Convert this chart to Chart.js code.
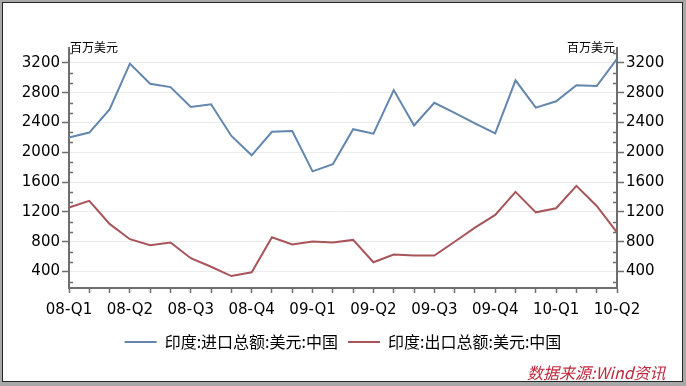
<!DOCTYPE html>
<html>
<head>
<meta charset="utf-8">
<script src="https://cdn.jsdelivr.net/npm/chart.js@4.4.1/dist/chart.umd.min.js"></script>
<style>
  html, body { margin: 0; padding: 0; }
  body { width: 686px; height: 386px; background: #a8a8a8; position: relative; overflow: hidden; }
  #frame { position: absolute; left: 2px; top: 2px; width: 681px; height: 380px; box-sizing: border-box; border: 1px solid #262626; background: #fff; }
  #c { position: absolute; left: 0; top: 0; }
  #src { position: absolute; left: 527px; top: 362px; font: italic 16px "Noto Sans CJK SC", sans-serif; line-height: 20px; color: #c0283c; white-space: nowrap; }
</style>
</head>
<body>
<div id="frame"></div>
<canvas id="c" width="686" height="386"></canvas>
<div id="src">数据来源:Wind资讯</div>
<script>
const months = ['2008-01','2008-02','2008-03','2008-04','2008-05','2008-06','2008-07','2008-08','2008-09','2008-10','2008-11','2008-12',
                '2009-01','2009-02','2009-03','2009-04','2009-05','2009-06','2009-07','2009-08','2009-09','2009-10','2009-11','2009-12',
                '2010-01','2010-02','2010-03','2010-04'];
const quarterLabels = ['08-Q1','08-Q2','08-Q3','08-Q4','09-Q1','09-Q2','09-Q3','09-Q4','10-Q1','10-Q2'];
const importValues = [2200,2265,2575,3190,2920,2875,2610,2645,2220,1960,2275,2285,1745,1840,2310,2250,2835,2360,2665,2530,2390,2255,2965,2600,2685,2900,2890,3255];
const exportValues = [1260,1350,1040,835,755,790,580,465,340,390,860,765,805,790,825,525,630,615,615,800,990,1160,1470,1195,1250,1550,1280,925];
const yTickValues = [400,800,1200,1600,2000,2400,2800,3200];
const seriesNames = ['印度:进口总额:美元:中国','印度:出口总额:美元:中国'];
const unitLabel = '百万美元';

const AXIS = '#6e6e6e';
const BLUE = '#6286ad';
const RED = '#a8555a';

const extras = {
  id: 'extras',
  afterDraw(chart) {
    const ctx = chart.ctx, y = chart.scales.y, a = chart.chartArea;
    ctx.save();
    ctx.strokeStyle = AXIS;
    ctx.lineWidth = 1.5;
    const step = 400 / 3;
    for (let k = 0; k * step <= y.max; k++) {
      const v = k * step;
      if (v < y.min || k % 3 === 0) continue;
      const py = Math.round(y.getPixelForValue(v)) + 0.5;
      ctx.beginPath();
      ctx.moveTo(a.left, py); ctx.lineTo(a.left + 4, py);
      ctx.moveTo(a.right, py); ctx.lineTo(a.right - 4, py);
      ctx.stroke();
    }
    ctx.fillStyle = '#000';
    ctx.font = '12px "Noto Sans CJK SC"';
    ctx.textBaseline = 'middle';
    ctx.textAlign = 'left';
    ctx.fillText(unitLabel, a.left + 1, a.top - 1);
    ctx.textAlign = 'right';
    ctx.fillText(unitLabel, a.right - 2, a.top - 1);
    ctx.restore();
  }
};

const yCommon = {
  type: 'linear',
  min: 180,
  max: 3400,
  afterBuildTicks: s => { s.ticks = yTickValues.map(v => ({ value: v })); },
  afterFit: s => { s.width = 69; },
  border: { display: true, color: AXIS, width: 2 },
  ticks: { color: '#000', font: { family: 'DejaVu Sans', size: 15 }, padding: 2, callback: v => String(v) },
};

new Chart(document.getElementById('c'), {
  type: 'line',
  data: {
    labels: months,
    datasets: [
      { label: seriesNames[0], data: importValues, borderColor: BLUE, backgroundColor: BLUE, borderWidth: 2, pointRadius: 0, tension: 0, yAxisID: 'y' },
      { label: seriesNames[1], data: exportValues, borderColor: RED, backgroundColor: RED, borderWidth: 2, pointRadius: 0, tension: 0, yAxisID: 'y' }
    ]
  },
  options: {
    responsive: false,
    animation: false,
    layout: { padding: { top: 48, bottom: 26, left: 0, right: 0 } },
    plugins: {
      tooltip: { enabled: false },
      legend: {
        position: 'bottom',
        labels: {
          boxWidth: 32, boxHeight: 2, padding: 10, color: '#000',
          font: { family: '"Noto Sans CJK SC"', size: 16 },
          generateLabels(chart) {
            const items = Chart.defaults.plugins.legend.labels.generateLabels(chart);
            items.forEach(i => { i.fillStyle = i.strokeStyle; i.lineWidth = 0; });
            return items;
          }
        }
      }
    },
    scales: {
      x: {
        type: 'category',
        offset: false,
        afterFit: s => { s.height = 36; },
        border: { display: true, color: AXIS, width: 2 },
        grid: { display: true, drawOnChartArea: false, drawTicks: true, tickLength: 5, tickColor: AXIS, tickWidth: 1.5 },
        ticks: {
          autoSkip: false, maxRotation: 0, minRotation: 0, padding: 8,
          color: '#000', font: { family: 'DejaVu Sans', size: 15 },
          callback: (v, i) => (i % 3 === 0 ? quarterLabels[i / 3] : '')
        }
      },
      y: Object.assign({}, yCommon, {
        position: 'left',
        grid: { color: '#ebebeb', lineWidth: 1, drawTicks: true, tickLength: 7, tickColor: AXIS, tickWidth: 1.5 }
      }),
      y1: Object.assign({}, yCommon, {
        position: 'right',
        grid: { drawOnChartArea: false, drawTicks: true, tickLength: 7, tickColor: AXIS, tickWidth: 1.5 }
      })
    }
  },
  plugins: [extras]
});
</script>
</body>
</html>
